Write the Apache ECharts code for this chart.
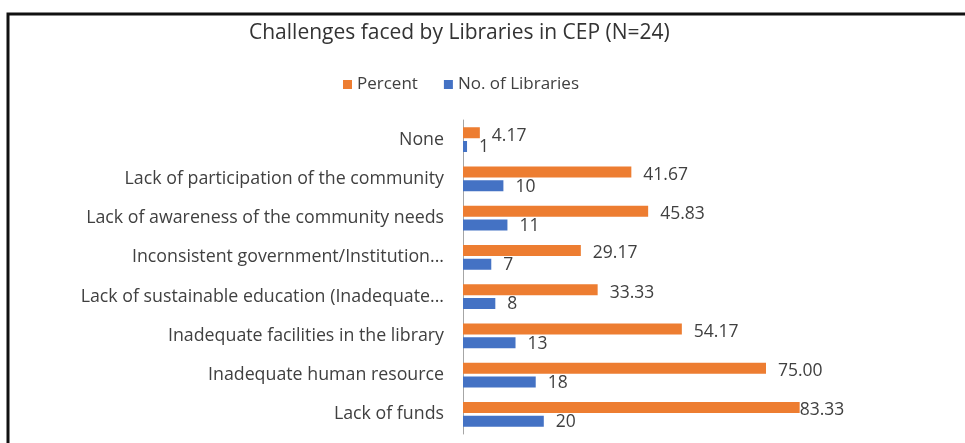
<!DOCTYPE html>
<html>
<head>
<meta charset="utf-8">
<script src="https://cdn.jsdelivr.net/npm/echarts@6/dist/echarts.min.js"></script>
<style>
  html, body { margin: 0; padding: 0; background: #fff; }
  #chart { width: 965px; height: 443px; }
</style>
</head>
<body>
<div id="chart"></div>
<script>
// Challenges reported by libraries taking part in CEP (N = 24)
const categories = [
  'None',
  'Lack of participation of the community',
  'Lack of awareness of the community needs',
  'Inconsistent government/Institution...',
  'Lack of sustainable education (Inadequate...',
  'Inadequate facilities in the library',
  'Inadequate human resource',
  'Lack of funds'
];
const percentValues = [4.17, 41.67, 45.83, 29.17, 33.33, 54.17, 75.00, 83.33];
const libraryCounts = [1, 10, 11, 7, 8, 13, 18, 20];
const seriesNames = ['Percent', 'No. of Libraries'];

const FONT = '"Open Sans", "Noto Sans", sans-serif';
const TEXT = '#404040';

const chart = echarts.init(document.getElementById('chart'), null, { renderer: 'canvas' });

chart.setOption({
  backgroundColor: '#ffffff',
  animation: false,
  title: {
    text: 'Challenges faced by Libraries in CEP (N=24)',
    left: 244,
    top: 18,
    textStyle: { fontFamily: FONT, fontSize: 21, fontWeight: 'normal', color: '#333333' }
  },
  legend: {
    top: 71,
    left: 338,
    itemWidth: 9,
    itemHeight: 9,
    itemGap: 26,
    icon: 'rect',
    textStyle: { fontFamily: FONT, fontSize: 17, color: TEXT },
    data: seriesNames
  },
  grid: { left: 463, top: 120, width: 404, bottom: 9, containLabel: false },
  xAxis: {
    type: 'value',
    min: 0,
    max: 100,
    show: false
  },
  yAxis: {
    type: 'category',
    inverse: true,
    data: categories,
    axisLine: { show: true, lineStyle: { color: '#a6a6a6', width: 1 } },
    axisTick: { show: false },
    axisLabel: { fontFamily: FONT, fontSize: 17.8, color: TEXT, margin: 19 }
  },
  series: [
    {
      name: seriesNames[0],
      type: 'bar',
      data: percentValues.map((v, i) => ({
        value: v,
        label: i === percentValues.length - 1 ? { distance: 0 } : undefined
      })),
      barWidth: 11,
      barGap: '25%',
      itemStyle: { color: '#ED7D31' },
      label: {
        show: true,
        position: 'right',
        distance: 12,
        offset: [0, 3],
        fontFamily: FONT,
        fontSize: 17.5,
        color: TEXT,
        formatter: p => p.value.toFixed(2)
      }
    },
    {
      name: seriesNames[1],
      type: 'bar',
      data: libraryCounts,
      barWidth: 11,
      barGap: '25%',
      itemStyle: { color: '#4472C4' },
      label: {
        show: true,
        position: 'right',
        distance: 12,
        offset: [0, 1],
        fontFamily: FONT,
        fontSize: 17.5,
        color: TEXT
      }
    }
  ],
  graphic: [
    // chart frame: top and left edges
    {
      type: 'polyline',
      shape: { points: [[8, 443], [8, 14], [965, 14]] },
      style: { stroke: '#111111', lineWidth: 3, fill: null }
    }
  ]
});
</script>
</body>
</html>
